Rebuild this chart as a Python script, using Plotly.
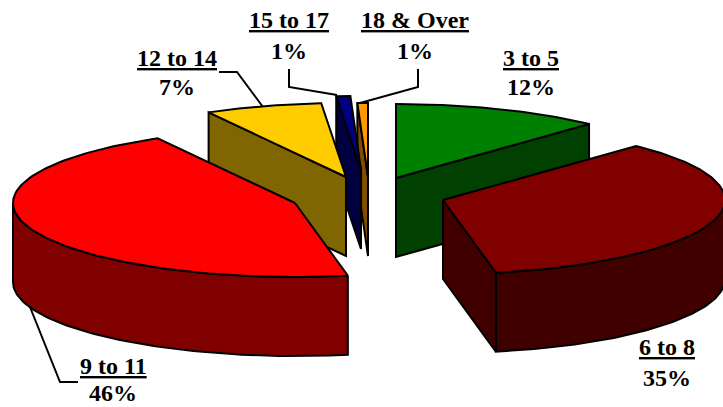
import numpy as np
import plotly.graph_objects as go

categories = ["3 to 5", "6 to 8", "9 to 11", "12 to 14", "15 to 17", "18 & Over"]
# shares
values = [12.0, 35.0, 44.9, 6.7, 0.8, 0.6]
percent_labels = ["12%", "35%", "46%", "7%", "1%", "1%"]

top_colors = ["#008000", "#800000", "#FF0000", "#FFCC00", "#000080", "#FF9900"]
side_colors = ["#004000", "#400000", "#800000", "#806600", "#000040", "#804C00"]
apex_x = [396, 443, 295, 346, 361, 368]
apex_y = [178, 200, 203, 177, 170, 177]
paint_order = [0, 5, 4, 3, 2, 1]

RX, RY, DEPTH = 282, 74, 79
W, H = 723, 407
FONT = dict(family="Liberation Serif", size=24, color="black")

label_pos = {
    "3 to 5": (531, 58, 87),
    "6 to 8": (667, 347, 378),
    "9 to 11": (113, 366, 393),
    "12 to 14": (177, 58, 87),
    "15 to 17": (289, 20, 51),
    "18 & Over": (415, 20, 51),
}
leaders = [
    ([219, 237, 263], [72, 72, 107]),
    ([289, 289, 337], [69, 87, 95]),
    ([418, 418, 360], [69, 87, 103]),
    ([30, 60, 78], [307, 382, 382]),
]

fig = go.Figure()


def poly(xs, ys, fill):
    fig.add_trace(go.Scatter(
        x=xs, y=ys, mode="lines", fill="toself", fillcolor=fill,
        line=dict(color="black", width=2), hoverinfo="skip", showlegend=False,
    ))


def edge(ax, ay, deg):
    r = np.radians(deg)
    return ax + RX * np.sin(r), ay - RY * np.cos(r)


bounds = np.concatenate([[0], np.cumsum(values)]) * 3.6

# leaders sit behind the pie
for lx, ly in leaders:
    fig.add_trace(go.Scatter(x=lx, y=ly, mode="lines",
                             line=dict(color="black", width=2),
                             hoverinfo="skip", showlegend=False))

for i in paint_order:
    start, end = bounds[i], bounds[i + 1]
    ax, ay = apex_x[i], apex_y[i]
    side, top = side_colors[i], top_colors[i]

    # outer wall: only the part of the arc that faces the viewer
    a0, a1 = max(start, 90), min(end, 270)
    if a1 > a0:
        t = np.linspace(a0, a1, 80)
        ex, ey = edge(ax, ay, t)
        poly(list(ex) + list(ex[::-1]) + [ex[0]],
             list(ey) + list((ey + DEPTH)[::-1]) + [ey[0]], side)

    # cut faces
    for deg, visible in ((start, np.sin(np.radians(start)) < -1e-6),
                         (end, np.sin(np.radians(end)) > 1e-6)):
        if visible:
            ex, ey = edge(ax, ay, deg)
            poly([ax, ex, ex, ax, ax],
                 [ay, ey, ey + DEPTH, ay + DEPTH, ay], side)

    # top
    t = np.linspace(start, end, 120)
    ex, ey = edge(ax, ay, t)
    poly([ax] + list(ex) + [ax], [ay] + list(ey) + [ay], top)

annotations = []
for name, pct in zip(categories, percent_labels):
    x, y1, y2 = label_pos[name]
    annotations.append(dict(x=x, y=y1, text=f"<b><u>{name}</u></b>", showarrow=False,
                            font=FONT, xanchor="center", yanchor="middle"))
    annotations.append(dict(x=x, y=y2, text=f"<b>{pct}</b>", showarrow=False,
                            font=FONT, xanchor="center", yanchor="middle"))

fig.update_layout(
    width=W, height=H, margin=dict(l=0, r=0, t=0, b=0),
    paper_bgcolor="white", plot_bgcolor="white", showlegend=False,
    xaxis=dict(range=[0, W], visible=False, fixedrange=True),
    yaxis=dict(range=[H, 0], visible=False, fixedrange=True),
    annotations=annotations,
)
fig.write_html("out.html", config=dict(displayModeBar=False),
               post_script="document.body.style.margin='0';document.documentElement.style.overflow='hidden';")
